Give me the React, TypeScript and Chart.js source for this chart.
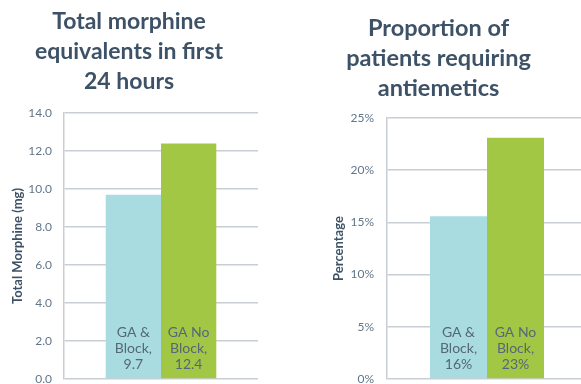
import React, { useEffect, useRef } from "react";
import { Chart, registerables } from "chart.js";

Chart.register(...registerables);

// Series shared by both panels
const seriesNames = ["GA & Block", "GA No Block"];
const seriesLabelLines = [
  ["GA &", "Block,"],
  ["GA No", "Block,"],
];
const seriesColors = ["#a9dce1", "#a2c745"];

// Panel 1: morphine equivalents (mg)
const morphineTitle = ["Total morphine", "equivalents in first", "24 hours"];
const morphineAxisTitle = "Total Morphine (mg)";
const morphineValues = [9.7, 12.4];
const morphineTicks = { min: 0, max: 14, step: 2 };

// Panel 2: antiemetic use (%)
const antiemeticTitle = ["Proportion of", "patients requiring", "antiemetics"];
const antiemeticAxisTitle = "Percentage";
const antiemeticValues = [15.6, 23.1];
const antiemeticTicks = { min: 0, max: 25, step: 5 };

const FONT = "Lato, 'Open Sans', sans-serif";
const TITLE_COLOR = "#3d5266";
const TICK_COLOR = "#62768a";
const GRID_COLOR = "#c9ced4";
const LABEL_COLOR = "#55677a";

// Writes the series name and value inside the foot of each bar
const barTextPlugin = {
  id: "barText",
  afterDatasetsDraw(chart: any, _args: any, opts: any) {
    const { ctx, chartArea } = chart;
    ctx.save();
    ctx.font = `14px ${FONT}`;
    ctx.fillStyle = LABEL_COLOR;
    ctx.textAlign = "center";
    ctx.textBaseline = "middle";
    chart.data.datasets.forEach((ds: any, i: number) => {
      const bar = chart.getDatasetMeta(i).data[0];
      if (!bar) return;
      const lines = [...seriesLabelLines[i], opts.format(ds.data[0])];
      const lh = 16;
      const startY = chartArea.bottom - 15 - (lines.length - 1) * lh;
      lines.forEach((t: string, k: number) => {
        ctx.fillText(t, bar.x, startY + k * lh);
      });
    });
    ctx.restore();
  },
};

type PanelProps = {
  width: number;
  height: number;
  title: string[];
  titleSize: number;
  axisTitle: string;
  values: number[];
  ticks: { min: number; max: number; step: number };
  tickFormat: (v: number) => string;
  valueFormat: (v: number) => string;
  axisWidth: number;
  axisTitlePad: number;
  tickPad: number;
  titlePad: { top: number; bottom: number };
  padRight: number;
  padBottom: number;
};

function Panel(p: PanelProps) {
  const ref = useRef<HTMLCanvasElement>(null);
  useEffect(() => {
    if (!ref.current) return;
    const chart = new Chart(ref.current, {
      type: "bar",
      data: {
        labels: [""],
        datasets: seriesNames.map((name, i) => ({
          label: name,
          data: [p.values[i]],
          backgroundColor: seriesColors[i],
          borderWidth: 0,
          barPercentage: 1,
          categoryPercentage: 0.57,
        })),
      },
      options: {
        animation: false,
        responsive: false,
        maintainAspectRatio: false,
        devicePixelRatio: 1,
        layout: { padding: { left: 0, right: p.padRight, top: 0, bottom: p.padBottom } },
        plugins: {
          legend: { display: false },
          tooltip: { enabled: false },
          title: {
            display: true,
            text: p.title,
            color: TITLE_COLOR,
            font: {
              family: FONT,
              size: p.titleSize,
              weight: "bold",
              lineHeight: 30 / p.titleSize,
            },
            padding: p.titlePad,
          },
          barText: { format: p.valueFormat },
        } as any,
        scales: {
          x: { display: false },
          y: {
            min: p.ticks.min,
            max: p.ticks.max,
            afterFit: (scale: any) => {
              scale.width = p.axisWidth;
              // tick padding would otherwise be reserved above and below the plot
              scale.paddingTop = 0;
              scale.paddingBottom = 0;
            },
            ticks: {
              stepSize: p.ticks.step,
              padding: p.tickPad,
              color: TICK_COLOR,
              font: { family: FONT, size: 12 },
              callback: (v: any) => p.tickFormat(Number(v)),
            },
            grid: { color: GRID_COLOR, lineWidth: 1.5, drawTicks: false },
            border: { display: true, color: GRID_COLOR, width: 1.5 },
            title: {
              display: true,
              text: p.axisTitle,
              color: TITLE_COLOR,
              font: { family: FONT, size: 13, weight: "bold", lineHeight: 1.2 },
              padding: { top: p.axisTitlePad, bottom: 0 },
            },
          },
        },
      },
      plugins: [barTextPlugin],
    });
    return () => chart.destroy();
  }, []);
  return (
    <canvas
      ref={ref}
      width={p.width}
      height={p.height}
      style={{ display: "block", width: p.width, height: p.height }}
    />
  );
}

export default function App() {
  return (
    <div
      style={{
        position: "fixed",
        left: 0,
        top: 0,
        width: 581,
        height: 384,
        overflow: "hidden",
        background: "#ffffff",
      }}
    >
      <div style={{ position: "absolute", left: 0, top: 0 }}>
        <Panel
          width={264}
          height={384}
          title={morphineTitle}
          titleSize={23}
          axisTitle={morphineAxisTitle}
          values={morphineValues}
          ticks={morphineTicks}
          tickFormat={(v) => v.toFixed(1)}
          valueFormat={(v) => v.toFixed(1)}
          axisWidth={64}
          axisTitlePad={10}
          tickPad={12}
          titlePad={{ top: 7, bottom: 16 }}
          padRight={6}
          padBottom={5}
        />
      </div>
      <div style={{ position: "absolute", left: 290, top: 0 }}>
        <Panel
          width={334}
          height={384}
          title={antiemeticTitle}
          titleSize={23.5}
          axisTitle={antiemeticAxisTitle}
          values={antiemeticValues}
          ticks={antiemeticTicks}
          tickFormat={(v) => `${v}%`}
          valueFormat={(v) => `${Math.round(v)}%`}
          axisWidth={97}
          axisTitlePad={41}
          tickPad={13}
          titlePad={{ top: 13, bottom: 15 }}
          padRight={37}
          padBottom={5}
        />
      </div>
    </div>
  );
}
